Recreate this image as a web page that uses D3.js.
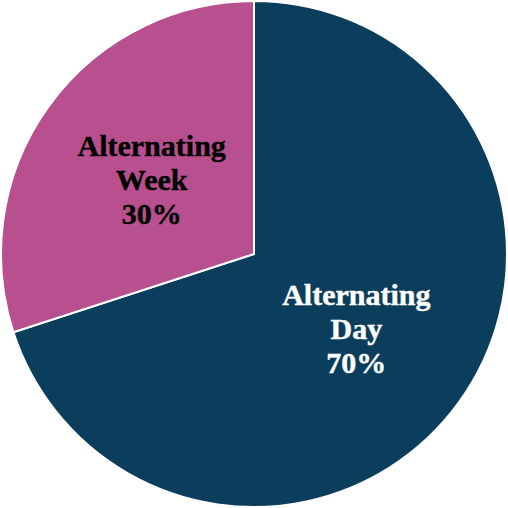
<!DOCTYPE html>
<html>
<head>
<meta charset="utf-8">
<script src="https://d3js.org/d3.v7.min.js"></script>
<style>
  body { margin: 0; background: #fff; }
  svg { display: block; }
</style>
</head>
<body>
<svg id="chart"></svg>
<script>
const categories = ["Alternating Day", "Alternating Week"];
const shares = [70, 30];
const colors = ["#0b3d5c", "#b8508f"];
const textColors = ["#ffffff", "#000000"];

const width = 508, height = 508;
const radius = 253;

const svg = d3.select("#chart").attr("width", width).attr("height", height);
const g = svg.append("g").attr("transform", `translate(${width / 2}, ${height / 2})`);

const data = categories.map((c, i) => ({ name: c, value: shares[i], color: colors[i], text: textColors[i] }));

const pie = d3.pie().value(d => d.value).sort(null);
const arc = d3.arc().innerRadius(0).outerRadius(radius);
const labelArc = d3.arc().innerRadius(radius * 0.5).outerRadius(radius * 0.5);

const arcs = pie(data);

g.selectAll("path")
    .data(arcs)
    .join("path")
    .attr("d", arc)
    .attr("fill", d => d.data.color)
    .attr("stroke", "#fff")
    .attr("stroke-width", 2);

const labels = g.selectAll("text")
    .data(arcs)
    .join("text")
    .attr("transform", d => `translate(${labelArc.centroid(d)})`)
    .attr("text-anchor", "middle")
    .attr("font-family", "'Liberation Serif', serif")
    .attr("font-weight", "bold")
    .attr("font-size", 30)
    .attr("stroke", d => d.data.text)
    .attr("stroke-width", 0.4)
    .attr("fill", d => d.data.text);

labels.each(function (d) {
    const words = d.data.name.split(" ");
    const lines = [words[0], words[1], d.data.value + "%"];
    d3.select(this).selectAll("tspan")
        .data(lines)
        .join("tspan")
        .attr("x", 0)
        .attr("y", (l, i) => (i - 1) * 34)
        .attr("dy", "0.35em")
        .text(l => l);
});
</script>
</body>
</html>
